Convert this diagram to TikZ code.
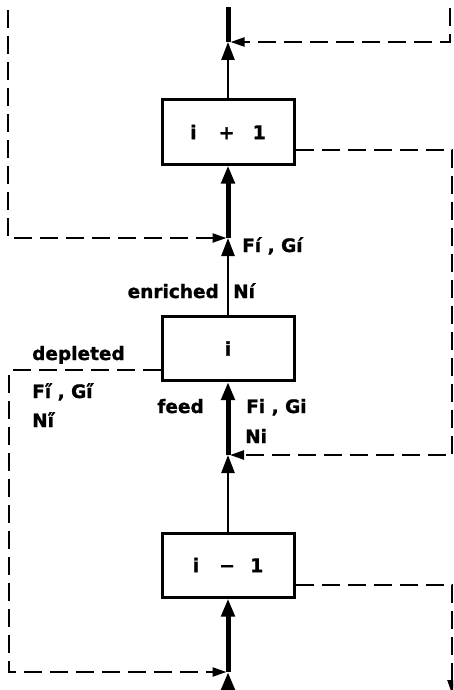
\documentclass[tikz,border=0pt]{standalone}
\usepackage{fontspec}
\setmainfont{DejaVu Sans}[BoldFeatures={FakeBold=1.2}]
\usetikzlibrary{arrows.meta}

\begin{document}
\begin{tikzpicture}[x=1pt,y=-1pt,
  stage/.style={draw, line width=3pt, minimum width=132pt, minimum height=64pt,
    inner sep=0pt, font=\fontsize{19}{22}\selectfont\bfseries},
  thinflow/.style={line width=2.6pt},
  thickflow/.style={line width=5pt},
  recycle/.style={line width=2.3pt, dash pattern=on 18pt off 8pt},
  lbl/.style={inner sep=0pt, font=\fontsize{18.5}{22}\selectfont\bfseries},
  head/.style={-{Triangle[length=18pt,width=13pt]}},
  rhead/.style={-{Triangle[length=14pt,width=9pt]}}]

\useasboundingbox (0,0) rectangle (453,690);
\clip (0,0) rectangle (453,690);

% stages of the cascade
\node[stage] (up)  at (228,132)   {i\hspace{22pt}+\hspace{18pt}1};
\node[stage] (mid) at (228,348.5) {i};
\node[stage] (low) at (228,565)   {i\hspace{20pt}−\hspace{15pt}1};

% junctions on the main stream
\coordinate (top) at (228,7);
\coordinate (jA)  at (228,42);
\coordinate (jB)  at (228,238);
\coordinate (jC)  at (228,455);
\coordinate (jD)  at (228,672);
\coordinate (bot) at (228,700);

% main upward stream
\draw[thickflow] (jA) -- (top);
\draw[thinflow, head]  (up.north)  -- (jA);
\draw[thickflow, head] (jB) -- (up.south);
\draw[thinflow, head]  (mid.north) -- (jB);
\draw[thickflow, head] (jC) -- (mid.south);
\draw[thinflow, head]  (low.north) -- (jC);
\draw[thickflow, head] (jD) -- (low.south);
\draw[thickflow, head] (bot) -- (jD);

% recycle streams
\coordinate (rTop) at (450,42);
\coordinate (lTop) at (8,238);
\coordinate (rA)   at (452,150);
\coordinate (lB)   at (9,370);
\coordinate (rC)   at (452,585);

\draw[recycle, rhead] (450,8) -- (rTop) -- ([xshift=2.5pt]jA);
\draw[recycle, rhead] (8,10) -- (lTop) -- ([xshift=-1.5pt]jB);
\draw[recycle, rhead] (up.east |- rA) -- (rA) -- (rA |- jC) -- ([xshift=2pt]jC);
\draw[recycle, rhead] (mid.west |- lB) -- (lB) -- (lB |- jD) -- ([xshift=-1.5pt]jD);
\draw[recycle, rhead] (low.east |- rC) -- (rC) -- (452,694);

% stream labels
\node[lbl, anchor=base west] (fgE)  at (242,252) {Fí , Gí};
\node[lbl, anchor=base east] (enr)  at (219,298) {enriched};
\node[lbl, anchor=base west] (nE)   at (233,298) {Ní};
\node[lbl, anchor=base west] (dep)  at (32,360)  {depleted};
\node[lbl, anchor=base west] (fgD)  at (32,398)  {Fi̋ , Gi̋};
\node[lbl, anchor=base west] (nD)   at (32,427)  {Ni̋};
\node[lbl, anchor=base east] (feed) at (204,413) {feed};
\node[lbl, anchor=base west] (fgF)  at (246,413) {Fi , Gi};
\node[lbl, anchor=base west] (nF)   at (245,443) {Ni};
\end{tikzpicture}
\end{document}
